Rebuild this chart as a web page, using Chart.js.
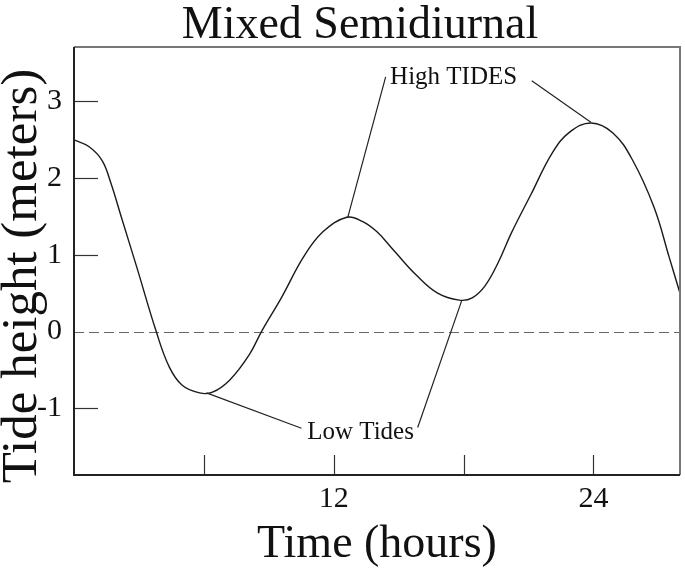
<!DOCTYPE html>
<html>
<head>
<meta charset="utf-8">
<script src="https://cdn.jsdelivr.net/npm/chart.js@4.4.1/dist/chart.umd.min.js"></script>
<style>
  html, body { margin: 0; padding: 0; background: #fff; }
  #wrap { width: 685px; height: 572px; }
</style>
</head>
<body>
<div id="wrap"><canvas id="c" width="685" height="572"></canvas></div>
<script>
// ---- data ----
const hours = [0, 0.7, 1.3, 1.7, 2.2, 2.9, 3.8, 4.4, 5.0, 5.8, 6.4, 7.2, 8.1, 8.7, 9.6, 10.6, 11.5, 12.6, 13.3, 14.0, 14.8, 15.8, 16.8, 17.8, 18.4, 19.0, 19.6, 20.2, 21.1, 22.1, 22.9, 23.9, 24.9, 25.8, 26.8, 27.5, 28];
const tideHeight = [2.50, 2.41, 2.23, 1.94, 1.48, 0.84, 0.0, -0.46, -0.70, -0.80, -0.79, -0.63, -0.30, 0.02, 0.45, 0.97, 1.30, 1.49, 1.44, 1.30, 1.05, 0.74, 0.50, 0.41, 0.44, 0.60, 0.90, 1.28, 1.78, 2.33, 2.60, 2.72, 2.59, 2.24, 1.62, 0.97, 0.50];
const yTicks = [-1, 0, 1, 2, 3];
const xTickMarks = [6, 12, 18, 24];
const xTickLabels = [12, 24];
const chartTitle = 'Mixed Semidiurnal';
const xTitle = 'Time (hours)';
const yTitle = 'Tide height (meters)';
const highLabel = 'High TIDES';
const lowLabel = 'Low Tides';

// annotation layout (data coordinates)
const annotations = [
  { text: highLabel, x: 17.54, y: 3.23, lines: [[14.40, 3.32, 12.64, 1.48], [21.15, 3.27, 23.88, 2.73]] },
  { text: lowLabel, x: 13.24, y: -1.40, lines: [[10.51, -1.26, 6.12, -0.80], [15.88, -1.25, 17.91, 0.40]] }
];

const SERIF = '"Liberation Serif", "Times New Roman", serif';

const decor = {
  id: 'decor',
  beforeDatasetsDraw(chart) {
    const { ctx, chartArea: a, scales: { x, y } } = chart;
    ctx.save();
    // zero dashed line
    ctx.strokeStyle = '#666';
    ctx.lineWidth = 1;
    ctx.setLineDash([10, 5]);
    const y0 = Math.round(y.getPixelForValue(0)) + 0.5;
    ctx.beginPath(); ctx.moveTo(a.left, y0); ctx.lineTo(a.right, y0); ctx.stroke();
    ctx.setLineDash([]);
    // inward ticks
    ctx.strokeStyle = '#333';
    ctx.lineWidth = 1.2;
    yTicks.forEach(v => {
      if (v === 0) return;
      const py = Math.round(y.getPixelForValue(v)) + 0.5;
      ctx.beginPath(); ctx.moveTo(a.left, py); ctx.lineTo(a.left + 24, py); ctx.stroke();
    });
    xTickMarks.forEach(v => {
      const px = Math.round(x.getPixelForValue(v)) + 0.5;
      ctx.beginPath(); ctx.moveTo(px, a.bottom); ctx.lineTo(px, a.bottom - 20); ctx.stroke();
    });
    ctx.restore();
  },
  afterDatasetsDraw(chart) {
    const { ctx, chartArea: a, scales: { x, y } } = chart;
    ctx.save();
    // frame
    ctx.lineWidth = 2;
    ctx.strokeStyle = '#777';
    ctx.beginPath(); ctx.moveTo(a.left, a.top); ctx.lineTo(a.right, a.top); ctx.lineTo(a.right, a.bottom); ctx.stroke();
    ctx.strokeStyle = '#222';
    ctx.beginPath(); ctx.moveTo(a.left, a.top); ctx.lineTo(a.left, a.bottom); ctx.lineTo(a.right, a.bottom); ctx.stroke();
    // annotations
    ctx.strokeStyle = '#222';
    ctx.lineWidth = 1.2;
    ctx.fillStyle = '#111';
    ctx.font = '25px ' + SERIF;
    ctx.textAlign = 'center';
    ctx.textBaseline = 'alphabetic';
    annotations.forEach(an => {
      an.lines.forEach(l => {
        ctx.beginPath();
        ctx.moveTo(x.getPixelForValue(l[0]), y.getPixelForValue(l[1]));
        ctx.lineTo(x.getPixelForValue(l[2]), y.getPixelForValue(l[3]));
        ctx.stroke();
      });
      ctx.fillText(an.text, x.getPixelForValue(an.x), y.getPixelForValue(an.y));
    });
    // titles
    ctx.font = '46px ' + SERIF;
    ctx.fillText(chartTitle, 360, 38);
    ctx.fillText(xTitle, (a.left + a.right) / 2, 557);
    ctx.save();
    ctx.translate(36, 276);
    ctx.rotate(-Math.PI / 2);
    ctx.font = '51px ' + SERIF;
    ctx.fillText(yTitle, 0, 0);
    ctx.restore();
    ctx.restore();
  }
};

new Chart(document.getElementById('c'), {
  type: 'line',
  data: {
    datasets: [{
      data: hours.map((h, i) => ({ x: h, y: tideHeight[i] })),
      borderColor: '#1a1a1a',
      borderWidth: 1.4,
      pointRadius: 0,
      fill: false,
      tension: 0.4
    }]
  },
  options: {
    responsive: false,
    animation: false,
    layout: { padding: { top: 47, right: 5, left: 0, bottom: 0 } },
    plugins: { legend: { display: false }, tooltip: { enabled: false }, title: { display: false } },
    scales: {
      x: {
        type: 'linear', min: 0, max: 28,
        afterFit(s) { s.height = 97; },
        afterBuildTicks(s) { s.ticks = xTickLabels.map(v => ({ value: v })); },
        grid: { display: false },
        border: { display: false },
        ticks: { color: '#111', font: { family: SERIF, size: 30 }, padding: -2, maxRotation: 0 }
      },
      y: {
        type: 'linear', min: -1.87, max: 3.71,
        afterFit(s) { s.width = 74; },
        afterBuildTicks(s) { s.ticks = yTicks.map(v => ({ value: v })); },
        grid: { display: false },
        border: { display: false },
        ticks: { color: '#111', font: { family: SERIF, size: 30 }, padding: 4 }
      }
    }
  },
  plugins: [decor]
});
</script>
</body>
</html>
